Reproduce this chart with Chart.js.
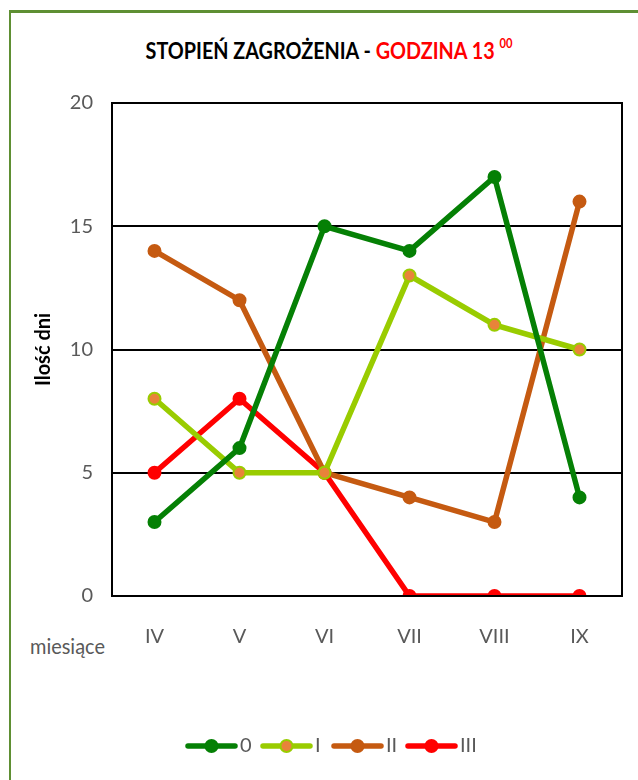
<!DOCTYPE html>
<html>
<head>
<meta charset="utf-8">
<script src="https://cdn.jsdelivr.net/npm/chart.js@4/dist/chart.umd.min.js"></script>
<style>
  html, body { margin: 0; padding: 0; background: #fff; }
  #wrap { position: relative; width: 638px; height: 780px; overflow: hidden; }
  #frame { position: absolute; left: 9px; top: 10px; width: 640px; height: 790px;
           border-left: 2px solid #5e8f33; border-top: 3px solid #5e8f33; }
  #title { position: absolute; left: 10px; width: 638px; top: 36px; text-align: center;
           font: bold 23px Lato, sans-serif; color: #000; transform: scaleX(0.86); }
  #title .red { color: #ff0000; }
  #title sup { font-size: 13px; position: relative; top: -2px; }
  #xname { position: absolute; left: 30px; top: 633px; font: 21px Lato, sans-serif; color: #595959;
           transform: scaleX(0.95); transform-origin: left; }
  canvas { position: absolute; left: 0; top: 0; }
</style>
</head>
<body>
<div id="wrap">
  <div id="frame"></div>
  <div id="title">STOPIEŃ ZAGROŻENIA - <span class="red">GODZINA 13 <sup>00</sup></span></div>
  <div id="xname">miesiące</div>
  <canvas id="c" width="638" height="780"></canvas>
</div>
<script>
// months on the x axis
const months = ['IV', 'V', 'VI', 'VII', 'VIII', 'IX'];
// number of days per danger level
const level0 = [3, 6, 15, 14, 17, 4];
const level1 = [8, 5, 5, 13, 11, 10];
const level2 = [14, 12, 5, 4, 3, 16];
const level3 = [5, 8, 5, 0, 0, 0];
const seriesNames = ['0', 'I', 'II', 'III'];
const yTicks = [0, 5, 10, 15, 20];

const FONT = "Lato, sans-serif";
const GREY = '#595959';

function series(label, data, color, fill) {
  return {
    label, data,
    borderColor: color,
    backgroundColor: fill || color,
    pointBorderColor: color,
    pointBackgroundColor: fill || color,
    borderWidth: 5.5,
    pointRadius: 6,
    pointBorderWidth: 2,
    tension: 0,
  };
}

// plot frame + custom legend (line with a dot in the middle)
const framePlugin = {
  id: 'frame',
  afterDatasetsDraw(chart) {
    const { ctx, chartArea: a } = chart;
    ctx.save();
    ctx.strokeStyle = '#000';
    ctx.lineWidth = 2;
    ctx.strokeRect(a.left, a.top, a.right - a.left, a.bottom - a.top);
    ctx.restore();
  },
  afterDraw(chart) {
    const { ctx } = chart;
    const xs = [188, 263, 334, 408];
    const y = 746;
    ctx.save();
    ctx.font = '20px ' + FONT;
    ctx.textBaseline = 'middle';
    chart.data.datasets.forEach((ds, i) => {
      const x = xs[i];
      ctx.strokeStyle = ds.borderColor;
      ctx.lineWidth = 5.5;
      ctx.lineCap = 'round';
      ctx.beginPath();
      ctx.moveTo(x, y);
      ctx.lineTo(x + 47, y);
      ctx.stroke();
      ctx.beginPath();
      ctx.arc(x + 23.5, y, 6, 0, Math.PI * 2);
      ctx.fillStyle = ds.pointBackgroundColor;
      ctx.fill();
      ctx.lineWidth = 2;
      ctx.strokeStyle = ds.pointBorderColor;
      ctx.stroke();
      ctx.fillStyle = GREY;
      ctx.fillText(ds.label, x + 52, y);
    });
    ctx.restore();
  }
};

new Chart(document.getElementById('c'), {
  type: 'line',
  data: {
    labels: months,
    datasets: [
      series(seriesNames[0], level0, '#058005'),
      series(seriesNames[1], level1, '#99cc00', '#e8833a'),
      series(seriesNames[2], level2, '#c55a11'),
      series(seriesNames[3], level3, '#ff0000'),
    ],
  },
  options: {
    responsive: false,
    animation: false,
    layout: { padding: { top: 103, right: 16, bottom: 0, left: 0 } },
    plugins: { legend: { display: false }, tooltip: { enabled: false } },
    scales: {
      x: {
        offset: true,
        grid: { display: false },
        border: { display: false },
        ticks: { color: GREY, font: { family: FONT, size: 20 }, padding: 21 },
        afterFit(s) { s.height = 184; },
      },
      y: {
        min: 0, max: 20,
        afterBuildTicks(s) { s.ticks = yTicks.map(v => ({ value: v })); },
        grid: { color: '#000', lineWidth: 2, drawTicks: false },
        border: { display: false },
        ticks: { color: GREY, font: { family: FONT, size: 20 }, padding: 19 },
        title: {
          display: true, text: 'Ilość dni', color: '#000',
          font: { family: FONT, size: 20, weight: 'bold' },
          padding: { top: 32, bottom: 0 },
        },
        afterFit(s) { s.width = 112; },
      },
    },
  },
  plugins: [framePlugin],
});
</script>
</body>
</html>
